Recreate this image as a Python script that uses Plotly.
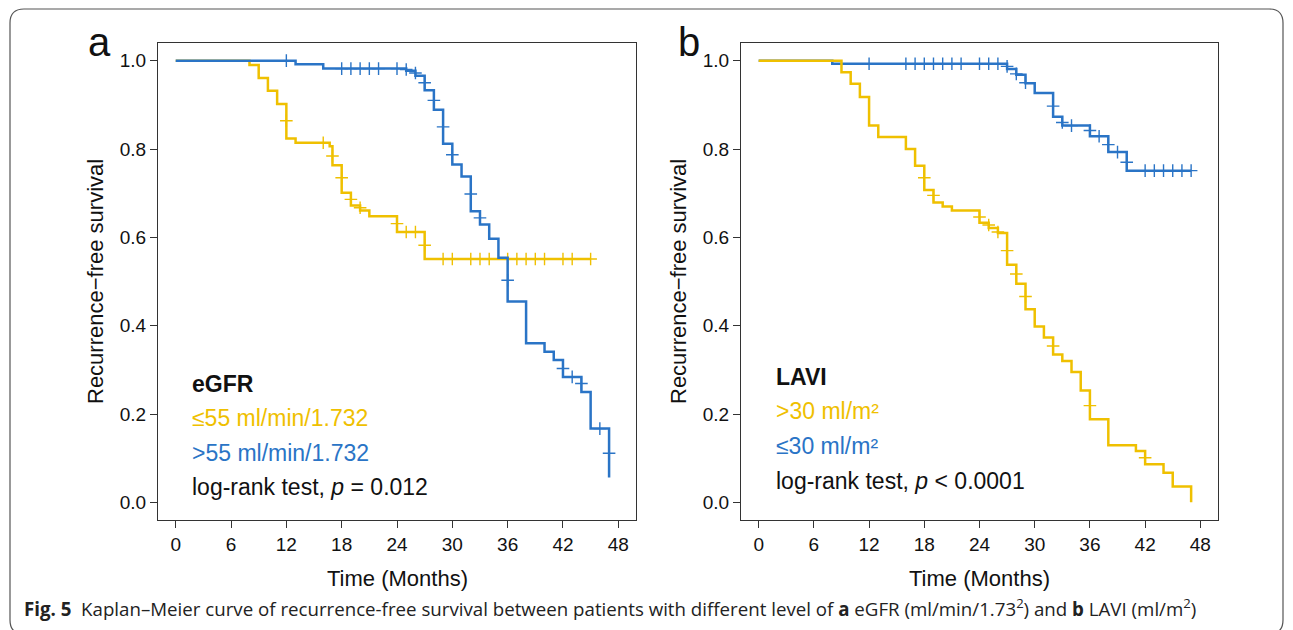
import plotly.graph_objects as go

# ---------------- data ----------------
# Panel a: eGFR
a_low_t = [0, 8, 9, 10, 11, 12, 13, 16.7, 17, 18, 19, 20, 21, 24, 27, 45]
a_low_s = [1.0, 0.99, 0.961, 0.932, 0.902, 0.824, 0.814, 0.806, 0.763, 0.701, 0.672, 0.661, 0.648, 0.612, 0.551, 0.551]
a_low_ct = [12, 16, 17, 18, 19, 20, 24, 25, 26, 27, 29, 30, 32, 33, 34, 36, 37, 38, 39, 40, 42, 43, 45]
a_low_cs = [0.864, 0.814, 0.784, 0.735, 0.686, 0.667, 0.631, 0.612, 0.612, 0.582,
            0.551, 0.551, 0.551, 0.551, 0.551, 0.551, 0.551, 0.551, 0.551, 0.551, 0.551, 0.551, 0.551]

a_high_t = [0, 13, 16, 25, 26, 27, 28, 29, 30, 31, 32, 33, 34, 35, 36, 38, 40, 41, 42, 44, 45, 47]
a_high_s = [1.0, 0.992, 0.982, 0.977, 0.966, 0.933, 0.889, 0.812, 0.765, 0.738, 0.659, 0.629, 0.597,
            0.554, 0.455, 0.360, 0.341, 0.322, 0.284, 0.250, 0.167, 0.056]
a_high_ct = [12, 18, 19, 20, 21, 22, 24, 25, 26, 27, 28, 29, 30, 32, 33, 36, 42, 43, 44, 46, 47]
a_high_cs = [1.0, 0.982, 0.982, 0.982, 0.982, 0.982, 0.982, 0.98, 0.972, 0.95, 0.910, 0.850,
             0.787, 0.698, 0.644, 0.503, 0.303, 0.284, 0.269, 0.167, 0.111]

# Panel b: LAVI
b_high_t = [0, 9, 10, 11, 12, 13, 16, 17, 18, 19, 20, 21, 24, 25, 26, 27, 28, 29, 30, 31, 32, 33,
            34, 35, 36, 38, 41, 42, 44, 45, 47]
b_high_s = [1.0, 0.974, 0.948, 0.918, 0.853, 0.827, 0.800, 0.762, 0.707, 0.679, 0.670, 0.661, 0.633,
            0.621, 0.610, 0.538, 0.495, 0.437, 0.398, 0.373, 0.335, 0.320, 0.295, 0.253, 0.188,
            0.129, 0.116, 0.086, 0.067, 0.036, 0.0]
b_high_ct = [18, 19, 24, 25, 26, 27, 28, 29, 32, 36, 42]
b_high_cs = [0.735, 0.695, 0.646, 0.628, 0.612, 0.570, 0.517, 0.466, 0.354, 0.219, 0.101]

b_low_t = [0, 8, 27, 28, 29, 30, 32, 33, 36, 38, 40, 47]
b_low_s = [1.0, 0.993, 0.981, 0.968, 0.949, 0.927, 0.873, 0.853, 0.829, 0.793, 0.751, 0.751]
b_low_ct = [12, 16, 17, 18, 19, 20, 21, 22, 24, 25, 26, 27, 28, 29, 32, 33, 34, 36, 37, 38, 39, 40,
            42, 43, 44, 45, 46, 47]
b_low_cs = [0.993, 0.993, 0.993, 0.993, 0.993, 0.993, 0.993, 0.993, 0.993, 0.993, 0.993, 0.987,
            0.970, 0.950, 0.897, 0.860, 0.853, 0.842, 0.829, 0.810, 0.793, 0.770,
            0.751, 0.751, 0.751, 0.751, 0.751, 0.751]

x_ticks = [0, 6, 12, 18, 24, 30, 36, 42, 48]
y_ticks = [0.0, 0.2, 0.4, 0.6, 0.8, 1.0]

YELLOW = "#EFC000"
BLUE = "#2A74C6"
W, H = 1293, 630
FONT = "Liberation Sans, Arial, sans-serif"

fig = go.Figure()


def add_curve(t, s, ct, cs, color, xa, ya):
    fig.add_trace(go.Scatter(x=t, y=s, mode="lines", line=dict(color=color, width=2.5, shape="hv"),
                             xaxis=xa, yaxis=ya, showlegend=False, hoverinfo="skip"))
    fig.add_trace(go.Scatter(x=ct, y=cs, mode="markers",
                             marker=dict(symbol="cross-thin", size=9, color=color,
                                         line=dict(color=color, width=1.4)),
                             xaxis=xa, yaxis=ya, showlegend=False, hoverinfo="skip"))


add_curve(a_low_t, a_low_s, a_low_ct, a_low_cs, YELLOW, "x", "y")
add_curve(a_high_t, a_high_s, a_high_ct, a_high_cs, BLUE, "x", "y")
add_curve(b_low_t, b_low_s, b_low_ct, b_low_cs, BLUE, "x2", "y2")
add_curve(b_high_t, b_high_s, b_high_ct, b_high_cs, YELLOW, "x2", "y2")


def px(x):
    return x / W


def py(y):
    return 1 - y / H


axis_common = dict(showline=True, mirror=True, linecolor="#333333", linewidth=1.3,
                   ticks="outside", ticklen=7, tickwidth=1.3, tickcolor="#333333",
                   showgrid=False, zeroline=False,
                   tickfont=dict(family=FONT, size=19, color="#111111"))

xa = dict(axis_common, range=[-1.92, 49.92], tickvals=x_ticks, ticktext=[str(v) for v in x_ticks])
ya = dict(axis_common, range=[-0.04, 1.04], tickvals=y_ticks, ticktext=["%.1f" % v for v in y_ticks])

fig.update_layout(
    width=W, height=H, margin=dict(l=0, r=0, t=0, b=0),
    paper_bgcolor="white", plot_bgcolor="white",
    xaxis=dict(xa, domain=[px(158), px(636)], anchor="y"),
    yaxis=dict(ya, domain=[py(520), py(43)], anchor="x"),
    xaxis2=dict(xa, domain=[px(741), px(1218)], anchor="y2"),
    yaxis2=dict(ya, domain=[py(520), py(43)], anchor="x2"),
)

ann = []


def text(x, y, s, size, color="#111111", xanchor="left", angle=0, family=FONT):
    ann.append(dict(x=px(x), y=py(y), xref="paper", yref="paper", text=s, showarrow=False,
                    xanchor=xanchor, yanchor="middle", textangle=angle,
                    font=dict(family=family, size=size, color=color)))


# panel labels
text(99, 42, "a", 40, xanchor="center")
text(689, 42, "b", 40, xanchor="center")

# axis titles
for cx, ylx in [(397, 95), (980, 678)]:
    text(cx, 578, "Time (Months)", 22, xanchor="center")
    text(ylx, 282, "Recurrence\u2212free survival", 22, xanchor="center", angle=-90)

# in-plot legend text
text(190, 384, "<b>eGFR</b>", 23)
text(190, 418, "\u226455 ml/min/1.732", 23, color=YELLOW)
text(190, 453, ">55 ml/min/1.732", 23, color=BLUE)
text(190, 487, "log-rank test, <i>p</i> = 0.012", 23)

text(774, 377, "<b>LAVI</b>", 23)
text(774, 411, ">30 ml/m\u00b2", 23, color=YELLOW)
text(774, 446, "\u226430 ml/m\u00b2", 23, color=BLUE)
text(774, 481, "log-rank test, <i>p</i> &lt; 0.0001", 23)

# caption
text(22, 607, "<b>Fig. 5</b>  Kaplan\u2013Meier curve of recurrence-free survival between patients with different level of "
     "<b>a</b> eGFR (ml/min/1.73<sup>2</sup>) and <b>b</b> LAVI (ml/m<sup>2</sup>)", 18.7,
     family="Open Sans, sans-serif", color="#222222")

fig.update_layout(annotations=ann)

# outer rounded border
x0, y0, x1, y1, r = 10, 9, 1283, 634, 14
path = (f"M {px(x0 + r)},{py(y0)} L {px(x1 - r)},{py(y0)} Q {px(x1)},{py(y0)} {px(x1)},{py(y0 + r)} "
        f"L {px(x1)},{py(y1 - r)} Q {px(x1)},{py(y1)} {px(x1 - r)},{py(y1)} "
        f"L {px(x0 + r)},{py(y1)} Q {px(x0)},{py(y1)} {px(x0)},{py(y1 - r)} "
        f"L {px(x0)},{py(y0 + r)} Q {px(x0)},{py(y0)} {px(x0 + r)},{py(y0)} Z")
fig.add_shape(type="path", path=path, xref="paper", yref="paper",
              line=dict(color="#555555", width=1.2), layer="below")

fig.write_html("out.html")
